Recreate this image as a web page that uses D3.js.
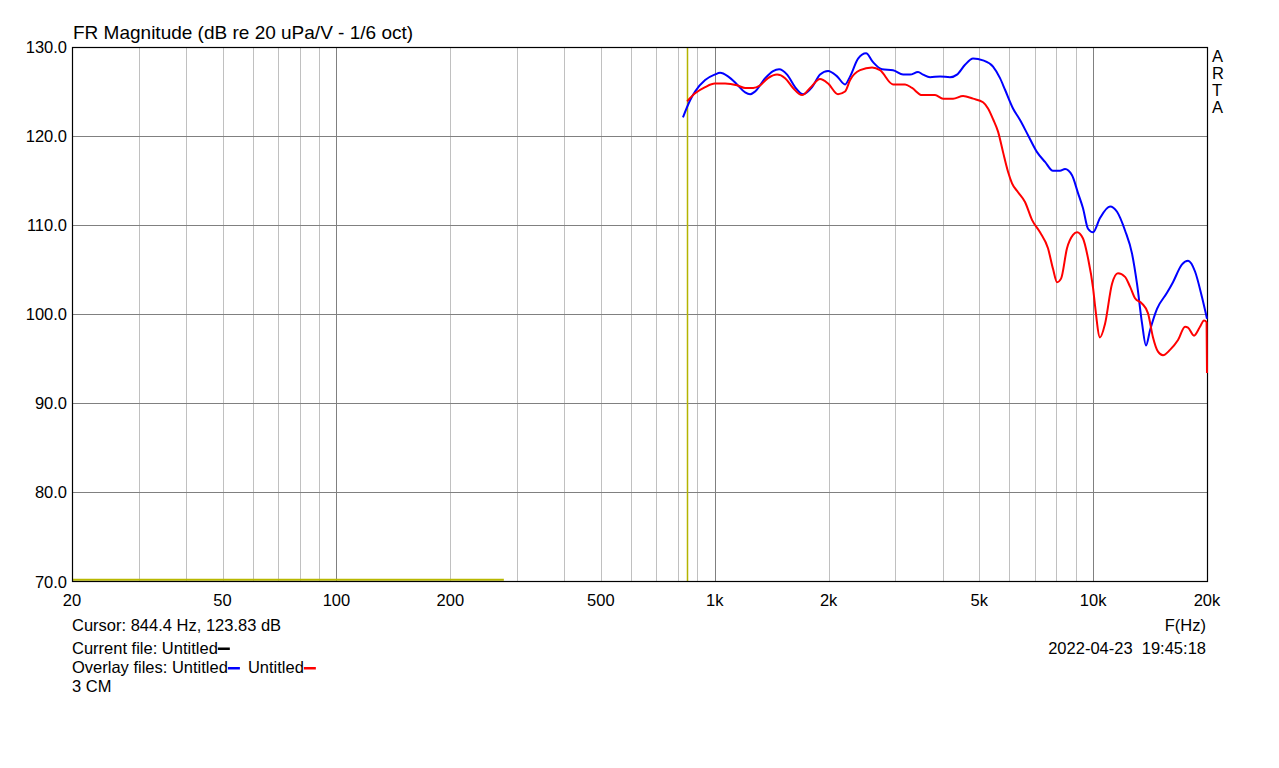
<!DOCTYPE html>
<html>
<head>
<meta charset="utf-8">
<script src="https://cdn.jsdelivr.net/npm/d3@7"></script>
<style>
html,body{margin:0;padding:0;background:#fff;}
svg{display:block;}
text{font-family:"Liberation Sans",Arial,sans-serif;fill:#000;}
</style>
</head>
<body>
<svg id="chart" width="1279" height="768"></svg>
<script>
// ---- data ----
const xTickValues = [20, 50, 100, 200, 500, 1000, 2000, 5000, 10000, 20000];
const xTickLabels = ["20", "50", "100", "200", "500", "1k", "2k", "5k", "10k", "20k"];
const yTickValues = [70, 80, 90, 100, 110, 120, 130];
const yTickLabels = ["70.0", "80.0", "90.0", "100.0", "110.0", "120.0", "130.0"];

const blueFreq = [824, 860, 887, 943, 1000, 1033, 1084, 1145, 1203, 1240, 1278, 1359, 1426, 1479, 1553, 1630, 1712, 1808, 1898, 1993, 2105, 2210, 2279, 2392, 2511, 2620, 2768, 2959, 3146, 3282, 3445, 3552, 3707, 3939, 4185, 4367, 4586, 4816, 5117, 5439, 5675, 5851, 6142, 6410, 6730, 7109, 7464, 7834, 8175, 8428, 8795, 9123, 9404, 9694, 10000, 10428, 11085, 11568, 12145, 12673, 13064, 13467, 13799, 14140, 14753, 15677, 16260, 17180, 17819, 18595, 19404, 20000];
const blueDb = [122.1, 124.0, 125.0, 126.3, 126.9, 127.1, 126.7, 125.8, 124.9, 124.7, 125.0, 126.5, 127.3, 127.5, 126.9, 125.5, 124.7, 125.5, 126.9, 127.3, 126.7, 125.8, 126.7, 128.7, 129.3, 128.3, 127.5, 127.4, 126.9, 126.9, 127.2, 126.9, 126.6, 126.7, 126.6, 126.9, 128.0, 128.7, 128.5, 127.8, 126.5, 125.2, 123.1, 121.8, 120.1, 118.2, 117.1, 116.1, 116.1, 116.3, 115.6, 113.6, 111.9, 109.6, 109.2, 110.8, 112.1, 111.5, 109.4, 106.8, 103.4, 99.0, 96.5, 98.2, 100.6, 102.4, 103.6, 105.6, 106.0, 104.8, 101.9, 99.5];

const redFreq = [845, 887, 943, 1000, 1065, 1145, 1203, 1263, 1318, 1383, 1461, 1534, 1610, 1701, 1786, 1898, 1993, 2117, 2210, 2279, 2421, 2605, 2734, 2959, 3184, 3322, 3530, 3821, 4013, 4264, 4531, 4816, 5117, 5276, 5439, 5607, 5780, 5958, 6105, 6333, 6607, 6894, 7239, 7599, 7834, 8030, 8228, 8531, 8849, 9068, 9404, 9694, 10000, 10116, 10428, 10750, 11217, 11634, 12145, 12519, 12905, 13467, 13969, 14400, 14844, 15302, 15968, 16766, 17496, 17819, 18480, 19168, 19642, 19950, 20000];
const redDb = [123.9, 124.8, 125.5, 125.9, 125.9, 125.7, 125.4, 125.4, 125.7, 126.5, 126.9, 126.5, 125.4, 124.6, 125.4, 126.4, 125.9, 124.7, 125.0, 126.3, 127.4, 127.7, 127.4, 125.8, 125.8, 125.4, 124.6, 124.6, 124.2, 124.2, 124.5, 124.2, 123.8, 123.1, 121.9, 120.5, 118.2, 116.0, 114.7, 113.7, 112.6, 110.6, 109.2, 107.4, 105.1, 103.6, 104.0, 107.4, 108.9, 109.2, 108.5, 106.3, 102.9, 101.0, 97.4, 98.9, 103.4, 104.6, 104.2, 103.1, 101.8, 101.2, 100.1, 97.4, 95.8, 95.4, 96.0, 97.1, 98.6, 98.5, 97.6, 98.6, 99.3, 99.1, 93.4];

const yellowFreq = [20, 277];
const yellowDb = [70.2, 70.2];
const cursorFreq = 844.4;
const cursorDb = 123.83;

// ---- layout ----
const svg = d3.select("#chart");
const L = 72, R = 1207, T = 47, B = 581.5;
const FS = 16.5;
const x = d3.scaleLog().domain([20, 20000]).range([L, R]);
const y = d3.scaleLinear().domain([70, 130]).range([B, T]);

// vertical grid
const minor = [];
for (let dec = 10; dec <= 10000; dec *= 10) {
  for (let m = 1; m <= 9; m++) {
    const f = dec * m;
    if (f > 20 && f < 20000) minor.push(f);
  }
}
svg.append("g").selectAll("line").data(minor).join("line")
  .attr("x1", d => Math.round(x(d)) + 0.5).attr("x2", d => Math.round(x(d)) + 0.5)
  .attr("y1", T).attr("y2", B)
  .attr("stroke", d => (d === 100 || d === 1000 || d === 10000) ? "#808080" : "#c0c0c0")
  .attr("stroke-width", 1);

// horizontal grid
svg.append("g").selectAll("line").data(yTickValues.slice(1, -1)).join("line")
  .attr("x1", L).attr("x2", R)
  .attr("y1", d => Math.round(y(d)) + 0.5).attr("y2", d => Math.round(y(d)) + 0.5)
  .attr("stroke", "#808080").attr("stroke-width", 1);

// yellow lines
const line = d3.line().x(d => x(d[0])).y(d => y(d[1]));
svg.append("path").datum(yellowFreq.map((f, i) => [f, yellowDb[i]]))
  .attr("d", line).attr("fill", "none").attr("stroke", "#b8b800").attr("stroke-width", 2);
svg.append("line")
  .attr("x1", Math.round(x(cursorFreq)) + 0.5).attr("x2", Math.round(x(cursorFreq)) + 0.5)
  .attr("y1", T).attr("y2", B).attr("stroke", "#b4b400").attr("stroke-width", 1.5);

// frame
svg.append("rect").attr("x", L + 0.5).attr("y", T + 0.5).attr("width", R - L).attr("height", B - T - 0.5)
  .attr("fill", "none").attr("stroke", "#000").attr("stroke-width", 1.2);

// curves
const curve = d3.line().x(d => x(d[0])).y(d => y(d[1])).curve(d3.curveMonotoneX);
svg.append("path").datum(blueFreq.map((f, i) => [f, blueDb[i]]))
  .attr("d", curve).attr("fill", "none").attr("stroke", "#0000ff").attr("stroke-width", 2);
svg.append("path").datum(redFreq.map((f, i) => [f, redDb[i]]))
  .attr("d", curve).attr("fill", "none").attr("stroke", "#ff0000").attr("stroke-width", 2);

// y labels
svg.append("g").selectAll("text").data(yTickValues).join("text")
  .attr("x", L - 5).attr("y", d => y(d) + 6)
  .attr("text-anchor", "end").attr("font-size", FS)
  .text((d, i) => yTickLabels[i]);

// x labels
svg.append("g").selectAll("text").data(xTickValues).join("text")
  .attr("x", d => x(d)).attr("y", 606)
  .attr("text-anchor", "middle").attr("font-size", FS)
  .text((d, i) => xTickLabels[i]);

// title
svg.append("text").attr("x", 73).attr("y", 39).attr("font-size", 19)
  .text("FR Magnitude (dB re 20 uPa/V - 1/6 oct)");

// ARTA
["A", "R", "T", "A"].forEach((c, i) => {
  svg.append("text").attr("x", 1212).attr("y", 62 + i * 17).attr("font-size", FS).text(c);
});

// bottom info
svg.append("text").attr("x", 1206).attr("y", 631).attr("text-anchor", "end").attr("font-size", FS).text("F(Hz)");
svg.append("text").attr("x", 1206).attr("y", 654).attr("text-anchor", "end").attr("font-size", FS)
  .attr("xml:space", "preserve").style("white-space", "pre").text("2022-04-23  19:45:18");

svg.append("text").attr("x", 72).attr("y", 631).attr("font-size", FS)
  .text("Cursor: " + cursorFreq + " Hz, " + cursorDb.toFixed(2) + " dB");

const cur = svg.append("text").attr("x", 72).attr("y", 654).attr("font-size", FS).text("Current file: Untitled");
const cw = cur.node().getComputedTextLength();
svg.append("rect").attr("x", 72 + cw).attr("y", 647.5).attr("width", 12).attr("height", 2.5).attr("fill", "#000");

const ov = svg.append("text").attr("x", 72).attr("y", 673).attr("font-size", FS).text("Overlay files: Untitled");
const ow = ov.node().getComputedTextLength();
svg.append("rect").attr("x", 72 + ow).attr("y", 667).attr("width", 12).attr("height", 2.5).attr("fill", "#0000ff");
const ov2 = svg.append("text").attr("x", 72 + ow + 20).attr("y", 673).attr("font-size", FS).text("Untitled");
const ow2 = ov2.node().getComputedTextLength();
svg.append("rect").attr("x", 72 + ow + 20 + ow2).attr("y", 667).attr("width", 12).attr("height", 2.5).attr("fill", "#ff0000");

svg.append("text").attr("x", 72).attr("y", 692).attr("font-size", FS).text("3 CM");
</script>
</body>
</html>
